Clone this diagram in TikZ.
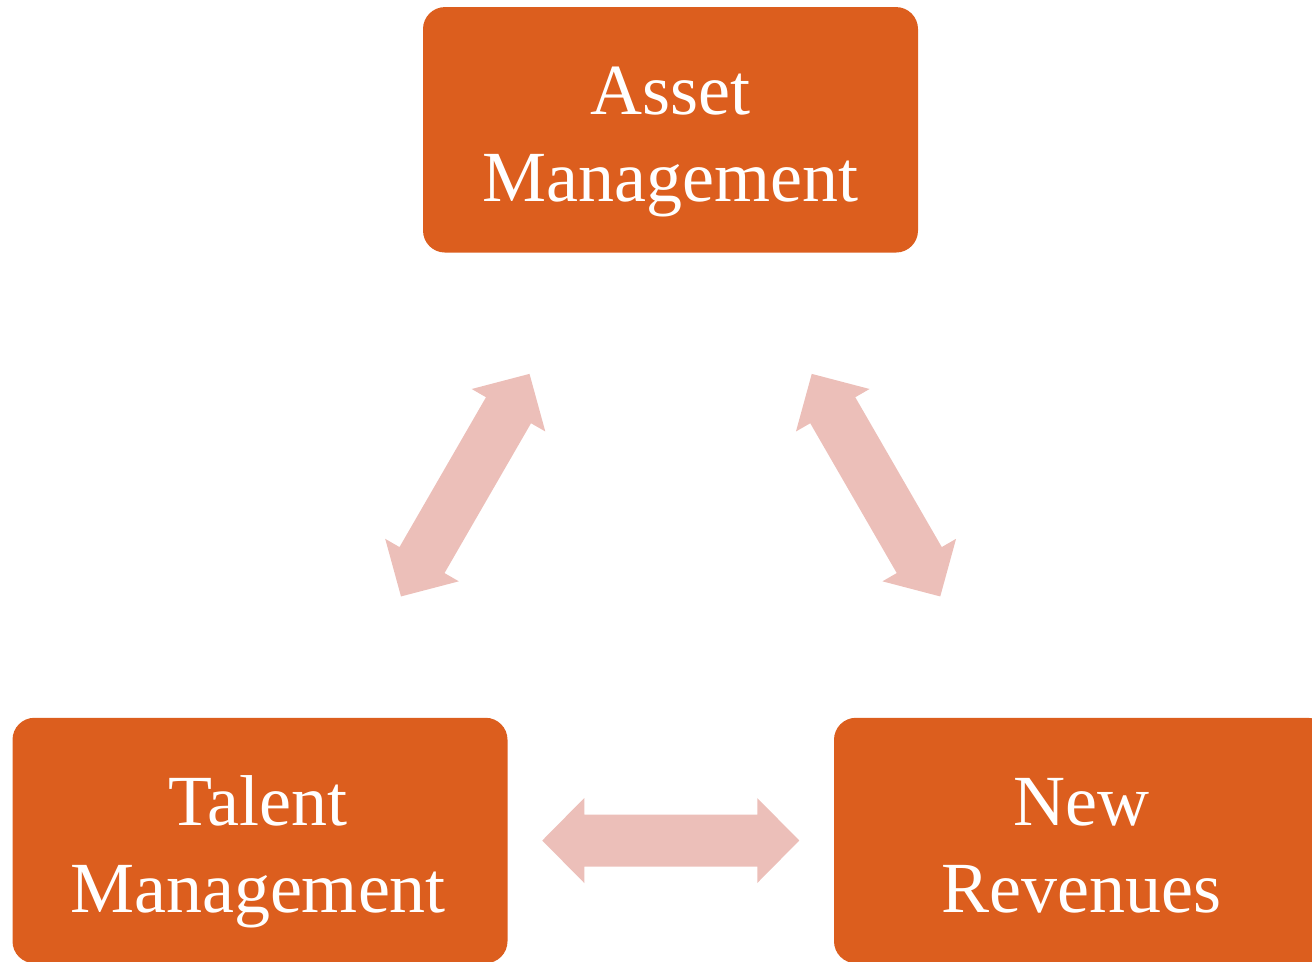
\documentclass[tikz,border=0pt]{standalone}
\usepackage{fontspec}
\setmainfont{Liberation Serif}
\usetikzlibrary{calc}
\definecolor{boxorange}{RGB}{220,94,30}
\definecolor{arrowpink}{RGB}{236,191,185}
\tikzset{
  box/.style={fill=boxorange, draw=none, rounded corners=16.5pt,
    minimum width=371.25pt, minimum height=184.1pt, inner sep=0pt},
  lbl/.style={text=white, font=\fontsize{54pt}{64pt}\selectfont, anchor=base, inner sep=0pt},
  blockarrow/.style={fill=arrowpink, draw=none}
}
\newcommand{\dblarrow}[3]{%
  \fill[blockarrow, shift={($(#1)!0.5!(#2)$)}, rotate=#3]
    (-128.5,0) -- (-86.5,-42.5) -- (-86.5,-26) -- (86.5,-26) -- (86.5,-42.5)
    -- (128.5,0) -- (86.5,42.5) -- (86.5,26) -- (-86.5,26) -- (-86.5,42.5) -- cycle;}
\begin{document}
\begin{tikzpicture}[x=0.75pt,y=-0.75pt]
  \useasboundingbox (0,0) rectangle (1312,961);
  \clip (0,0) rectangle (1312,961);
  % boxes
  \node[box] (am) at (670.5,129.8) {};
  \node[box] (tm) at (260,840.5) {};
  \node[box] (nr) at (1081.5,840.5) {};
  % labels
  \node[lbl] (amA) at ($(am.north)+(0,108)$) {Asset};
  \node[lbl] (amB) at ($(am.north)+(0,194.7)$) {Management};
  \node[lbl] (tmA) at ($(tm.north)+(-2,108)$) {Talent};
  \node[lbl] (tmB) at ($(tm.north)+(-2,194.7)$) {Management};
  \node[lbl] (nrA) at ($(nr.north)+(0,108)$) {New};
  \node[lbl] (nrB) at ($(nr.north)+(0,194.7)$) {Revenues};
  % block arrows
  \dblarrow{tm}{am}{60}
  \dblarrow{am}{nr}{-60}
  \dblarrow{tm}{nr}{0}
\end{tikzpicture}
\end{document}
